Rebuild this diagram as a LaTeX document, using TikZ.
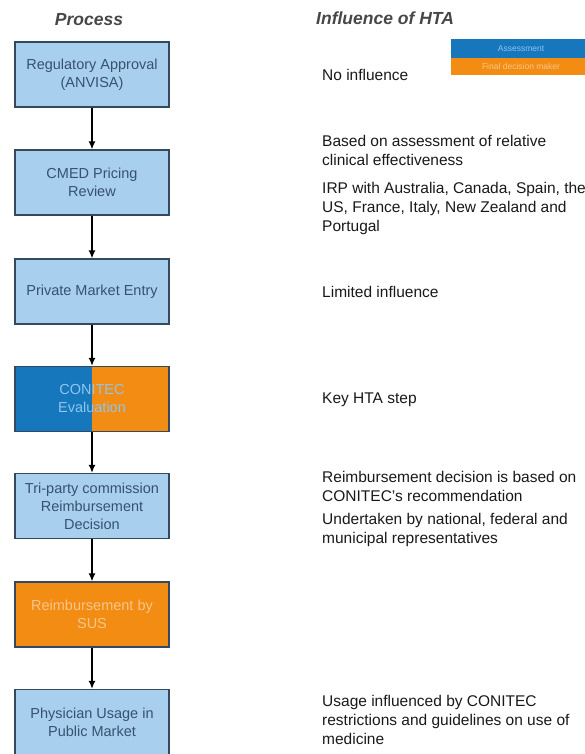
\documentclass[tikz,border=0pt]{standalone}
\usepackage{fontspec}
\setmainfont{Liberation Sans}
\usetikzlibrary{arrows.meta}
\definecolor{boxblue}{HTML}{A9CFEF}
\definecolor{boxline}{HTML}{34495E}
\definecolor{boxtext}{HTML}{36526F}
\definecolor{htablue}{HTML}{1677BD}
\definecolor{htaorange}{HTML}{F28C12}
\definecolor{conitext}{HTML}{8EC6EE}
\definecolor{susstext}{HTML}{F9C68C}
\definecolor{headgray}{HTML}{474747}
\tikzstyle{stage}=[rectangle, draw=boxline, line width=1.3pt, fill=boxblue, text=boxtext,
    minimum width=154pt, minimum height=65pt, inner sep=2pt, align=center,
    font=\fontsize{14.5}{18}\selectfont]
\tikzstyle{sus}=[stage, fill=htaorange, text=susstext]
\tikzstyle{infl}=[anchor=west, inner sep=0pt, align=left, text=black!90,
    font=\fontsize{15.5}{19}\selectfont]
\tikzstyle{heading}=[inner sep=0pt, text=headgray, font=\fontsize{17.5}{20}\selectfont\bfseries\itshape]
\tikzstyle{legendbox}=[rectangle, minimum width=140pt, inner sep=0pt, font=\fontsize{8.5}{9}\selectfont]
\newcommand{\stage}{\node[stage]}
\newcommand{\infl}{\node[infl]}

\begin{document}
\begin{tikzpicture}[x=1pt, y=-1pt
    ,every edge/.style={
        draw, black, line width=1.3pt,
        -{Latex[length=8pt,width=7pt]} }
]
\useasboundingbox (0,0) rectangle (585,754);
\node[heading] (process) at (89,20) {Process};
\node[heading, anchor=west] (influence) at (316,18) {Influence of HTA};
\node[legendbox, fill=htablue, text=conitext, minimum height=19pt] (assess) at (521,48.5) {Assessment};
\node[legendbox, fill=htaorange, text=susstext, minimum height=17pt] (final) at (521,66.5) {Final decision maker};
\stage (reg) at (92,74.5) {Regulatory Approval\\(ANVISA)};
\stage (cmed) at (92,182.5) {CMED Pricing\\Review};
\stage (priv) at (92,291.5) {Private Market Entry};
\stage[fill=htaorange, text=conitext,
    path picture={\fill[htablue] (path picture bounding box.south west)
        rectangle (path picture bounding box.north);}] (conitec) at (92,399) {CONITEC\\Evaluation};
\stage (tri) at (92,506) {Tri-party commission\\Reimbursement\\Decision};
\node[sus] (sus) at (92,614.5) {Reimbursement by\\SUS};
\stage (phys) at (92,722) {Physician Usage in\\Public Market};
\infl (none) at (322,75) {No influence};
\infl (based) at (322,150.5) {Based on assessment of relative\\clinical effectiveness};
\infl (irp) at (322,208) {IRP with Australia, Canada, Spain, the\\US, France, Italy, New Zealand and\\Portugal};
\infl (limited) at (322,292) {Limited influence};
\infl (keystep) at (322,400) {Key HTA step};
\infl (reimb) at (322,486) {Reimbursement decision is based on\\CONITEC’s recommendation};
\infl (under) at (322,530) {Undertaken by national, federal and\\municipal representatives};
\infl (usage) at (322,720) {Usage influenced by CONITEC\\restrictions and guidelines on use of\\medicine};
\path
(reg) edge (cmed)
(cmed) edge (priv)
(priv) edge (conitec)
(conitec) edge (tri)
(tri) edge (sus)
(sus) edge (phys)
;
\end{tikzpicture}
\end{document}
